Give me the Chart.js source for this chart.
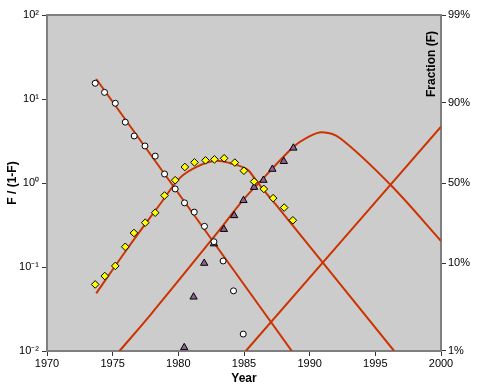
<!DOCTYPE html>
<html>
<head>
<meta charset="utf-8">
<script src="https://cdn.jsdelivr.net/npm/chart.js@4.4.0/dist/chart.umd.min.js"></script>
<style>
  html, body { margin: 0; padding: 0; background: #fff; }
</style>
</head>
<body>
<canvas id="chart" width="479" height="392"></canvas>
<script>
// values, F/(1-F) on a log axis

// white circles (declining share)
var circleYears = [1973.67, 1974.38, 1975.20, 1975.96, 1976.64, 1977.46, 1978.24, 1978.95, 1979.76, 1980.47, 1981.21, 1981.99, 1982.71, 1983.41, 1984.20, 1984.94];
var circleValues = [15.4, 12.0, 8.9, 5.3, 3.63, 2.76, 2.09, 1.28, 0.85, 0.58, 0.45, 0.305, 0.20, 0.118, 0.052, 0.0159];

// yellow diamonds (rise and saturation)
var diamondYears = [1973.67, 1974.40, 1975.20, 1975.96, 1976.62, 1977.48, 1978.24, 1978.95, 1979.76, 1980.50, 1981.23, 1982.07, 1982.75, 1983.49, 1984.30, 1984.99, 1985.77, 1986.51, 1987.22, 1988.06, 1988.72];
var diamondValues = [0.062, 0.078, 0.103, 0.174, 0.254, 0.337, 0.443, 0.71, 1.08, 1.55, 1.76, 1.86, 1.91, 1.97, 1.75, 1.40, 1.04, 0.85, 0.66, 0.51, 0.36];

// purple triangles (newcomer)
var triangleYears = [1980.45, 1981.16, 1981.97, 1982.71, 1983.47, 1984.25, 1984.96, 1985.77, 1986.48, 1987.16, 1988.03, 1988.76];
var triangleValues = [0.011, 0.044, 0.111, 0.189, 0.281, 0.41, 0.62, 0.89, 1.08, 1.46, 1.81, 2.61];

// fitted red curves
var declineYears = [1973.75, 1988.64];
var declineValues = [17.3, 0.01];
var bell1Years = [1973.75, 1976.21, 1978.62, 1980.14, 1981.44, 1982.81, 1983.95, 1985.22, 1985.85, 1986.48, 1987.75, 1996.43];
var bell1Values = [0.0486, 0.173, 0.562, 1.16, 1.57, 1.84, 1.72, 1.46, 1.11, 0.83, 0.48, 0.01];
var bell2Years = [1975.52, 1977.86, 1982.71, 1984.94, 1986.23, 1988.77, 1989.73, 1990.93, 1992.32, 1996.17, 2000];
var bell2Values = [0.01, 0.0268, 0.228, 0.628, 1.04, 2.70, 3.43, 4.02, 3.41, 0.946, 0.204];
var riseYears = [1985.14, 2000];
var riseValues = [0.01, 4.68];

// axis ticks
var yearTicks = [1970, 1975, 1980, 1985, 1990, 1995, 2000];
var ratioTicks = [0.01, 0.1, 1, 10, 100];
var ratioLabels = ['10\u207B\u00B2', '10\u207B\u00B9', '10\u2070', '10\u00B9', '10\u00B2'];
var fractionTicks = [1 / 99, 1 / 9, 1, 9, 99];
var fractionLabels = ['1%', '10%', '50%', '90%', '99%'];

const RED = '#cc3300';

function toPoints(xs, ys) {
    var pts = [];
    for (var i = 0; i < xs.length; i++) {
        pts.push({ x: xs[i], y: ys[i] });
    }
    return pts;
}

function markerSet(xs, ys, style, color, radius) {
    return {
        data: toPoints(xs, ys),
        showLine: false,
        pointStyle: style,
        pointRadius: radius,
        pointBackgroundColor: color,
        pointBorderColor: '#000',
        pointBorderWidth: 1,
        order: 0
    };
}

function curveSet(xs, ys) {
    return {
        data: toPoints(xs, ys),
        showLine: true,
        borderColor: RED,
        borderWidth: 2,
        pointRadius: 0,
        tension: 0.35,
        order: 1
    };
}

const plotBackground = {
    id: 'plotBackground',
    beforeDraw(chart) {
        const { ctx, chartArea: a } = chart;
        ctx.save();
        ctx.fillStyle = '#cccccc';
        ctx.fillRect(a.left, a.top, a.right - a.left, a.bottom - a.top);
        ctx.restore();
    },
    afterDraw(chart) {
        const { ctx, chartArea: a } = chart;
        ctx.save();
        ctx.strokeStyle = '#7f7f7f';
        ctx.lineWidth = 2;
        ctx.beginPath();
        ctx.moveTo(a.left, a.top);
        ctx.lineTo(a.right, a.top);
        ctx.stroke();
        // right axis title is drawn inside the plot area
        ctx.translate(a.right - 9, a.top + 49);
        ctx.rotate(-Math.PI / 2);
        ctx.font = 'bold 12px Arial, "Liberation Sans", sans-serif';
        ctx.fillStyle = '#000';
        ctx.textAlign = 'center';
        ctx.textBaseline = 'middle';
        ctx.fillText('Fraction (F)', 0, 0);
        ctx.restore();
    }
};

Chart.defaults.font.family = 'Arial, "Liberation Sans", sans-serif';
Chart.defaults.font.size = 11;
Chart.defaults.color = '#000';

const tickGrid = { drawOnChartArea: false, drawTicks: true, tickLength: 5, color: '#333', lineWidth: 1 };
const axisBorder = { color: '#7f7f7f', width: 2 };

new Chart(document.getElementById('chart'), {
    type: 'scatter',
    data: {
        datasets: [
            markerSet(circleYears, circleValues, 'circle', '#ffffff', 3),
            markerSet(diamondYears, diamondValues, 'rectRot', '#ffff00', 3.8),
            markerSet(triangleYears, triangleValues, 'triangle', '#8e6090', 4.2),
            curveSet(declineYears, declineValues),
            curveSet(bell1Years, bell1Values),
            curveSet(bell2Years, bell2Values),
            curveSet(riseYears, riseValues)
        ]
    },
    options: {
        responsive: false,
        animation: false,
        layout: { padding: { top: 15, left: 0, right: 0, bottom: 0 } },
        plugins: { legend: { display: false }, tooltip: { enabled: false } },
        scales: {
            x: {
                type: 'linear',
                min: 1970,
                max: 2000,
                grid: tickGrid,
                border: axisBorder,
                afterBuildTicks: function (scale) {
                    scale.ticks = yearTicks.map(function (v) { return { value: v }; });
                },
                ticks: { padding: 1, maxRotation: 0, callback: function (v) { return String(v); } },
                title: { display: true, text: 'Year', font: { size: 12, weight: 'bold' }, padding: { top: 0, bottom: 6 } },
                afterFit: function (scale) { scale.height = 41; }
            },
            y: {
                type: 'logarithmic',
                position: 'left',
                min: 0.01,
                max: 100,
                grid: tickGrid,
                border: axisBorder,
                afterBuildTicks: function (scale) {
                    scale.ticks = ratioTicks.map(function (v) { return { value: v }; });
                },
                ticks: {
                    padding: 3,
                    callback: function (v, i) { return ratioLabels[i]; }
                },
                title: { display: true, text: 'F / (1-F)', font: { size: 12, weight: 'bold' }, padding: { top: 5, bottom: 0 } },
                afterFit: function (scale) { scale.width = 47; }
            },
            y2: {
                type: 'logarithmic',
                position: 'right',
                min: 0.01,
                max: 100,
                grid: tickGrid,
                border: axisBorder,
                afterBuildTicks: function (scale) {
                    scale.ticks = fractionTicks.map(function (v) { return { value: v }; });
                },
                ticks: {
                    padding: 2,
                    callback: function (v, i) { return fractionLabels[i]; }
                },
                afterFit: function (scale) { scale.width = 38; }
            }
        }
    },
    plugins: [plotBackground]
});
</script>
</body>
</html>
